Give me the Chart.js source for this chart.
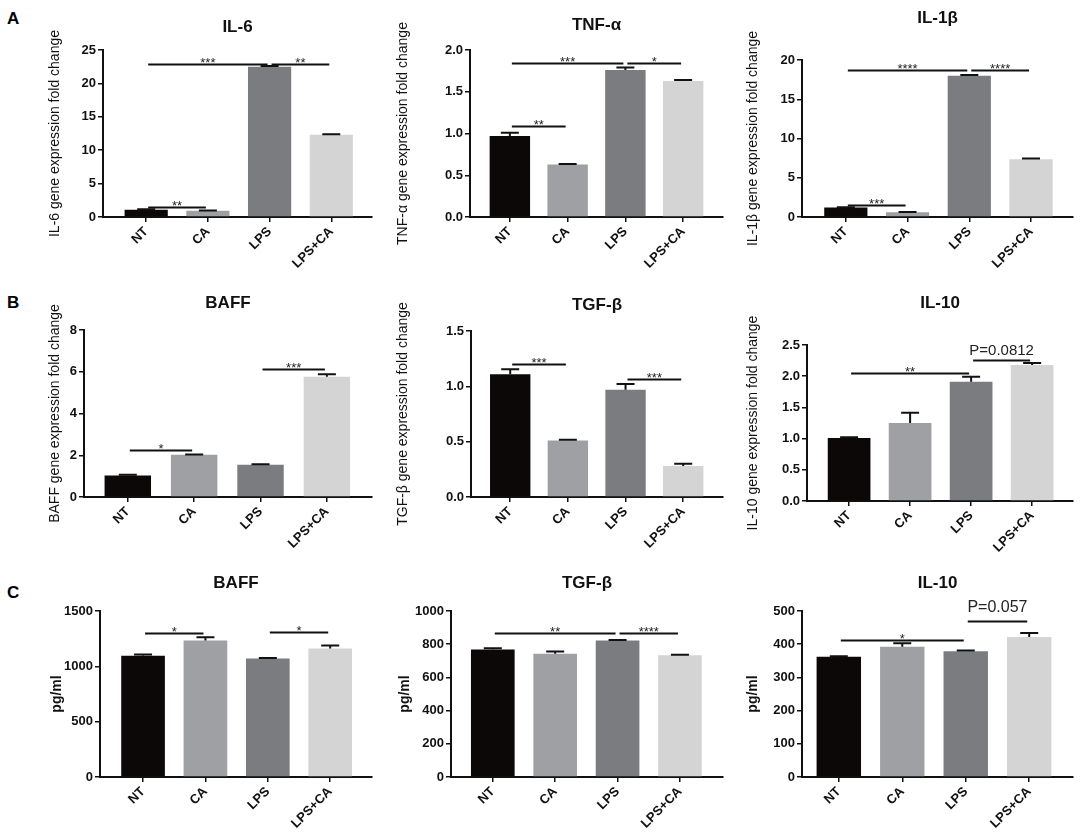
<!DOCTYPE html>
<html>
<head>
<meta charset="utf-8">
<script src="https://cdn.jsdelivr.net/npm/chart.js@4.4.1/dist/chart.umd.min.js"></script>
<style>
  body { margin: 0; width: 1084px; height: 838px; background: #fff; position: relative; overflow: hidden;
         font-family: "Liberation Sans", Arial, sans-serif; }
  .letter { position: absolute; font-weight: bold; font-size: 17px; line-height: 1; color: #000; }
  canvas { position: absolute; }
</style>
</head>
<body>
<div class="letter" style="left:7px;top:10px">A</div>
<div class="letter" style="left:7px;top:294px">B</div>
<div class="letter" style="left:7px;top:584px">C</div>

<script>
// ===== Data =====
const groups = ['NT', 'CA', 'LPS', 'LPS+CA'];

// A: gene expression fold change
const il6Mean  = [1.1, 0.95, 22.5, 12.3];
const il6Err   = [0.05, 0.04, 0.12, 0.1];
const il6Sig   = [[0, 2, 22.9, '***'], [2, 3, 22.9, '**'], [0, 1, 1.45, '**']];

const tnfMean  = [0.97, 0.63, 1.76, 1.63];
const tnfErr   = [0.04, 0.005, 0.03, 0.01];
const tnfSig   = [[0, 2, 1.85, '***'], [2, 3, 1.85, '*'], [0, 1, 1.09, '**']];

const il1bMean = [1.2, 0.6, 18.0, 7.35];
const il1bErr  = [0.05, 0.04, 0.1, 0.1];
const il1bSig  = [[0, 2, 18.7, '****'], [2, 3, 18.7, '****'], [0, 1, 1.58, '***']];

// B: gene expression fold change
const baffMean = [1.03, 2.02, 1.55, 5.76];
const baffErr  = [0.04, 0.02, 0.02, 0.12];
const baffSig  = [[0, 1, 2.26, '*'], [2, 3, 6.15, '***']];

const tgfMean  = [1.11, 0.51, 0.97, 0.28];
const tgfErr   = [0.045, 0.008, 0.05, 0.02];
const tgfSig   = [[0, 1, 1.2, '***'], [2, 3, 1.07, '***']];

const il10Mean = [1.01, 1.25, 1.91, 2.18];
const il10Err  = [0.01, 0.165, 0.08, 0.03];
const il10Sig  = [[0, 2, 2.05, '**'], [2, 3, 2.26, 'P=0.0812']];

// C: protein (pg/ml)
const baffPg    = [1095, 1233, 1071, 1161];
const baffPgErr = [12, 30, 5, 27];
const baffPgSig = [[0, 1, 1305, '*'], [2, 3, 1310, '*']];

const tgfPg    = [768, 742, 822, 734];
const tgfPgErr = [8, 14, 3, 3];
const tgfPgSig = [[0, 2, 870, '**'], [2, 3, 870, '****']];

const il10Pg    = [362, 392, 379, 422];
const il10PgErr = [2, 11, 2, 12];
const il10PgSig = [[0, 2, 412, '*'], [2, 3, 469, 'P=0.057']];

// ===== Styles =====
const barColors = ['#0c0808', '#9fa0a4', '#7b7c80', '#d4d4d4'];
const FONT = '"Liberation Sans", Arial, sans-serif';
const INK = '#111';

// ===== Panels (plot box in page pixels) =====
const panels = [
  { title: 'IL-6', yTitle: 'IL-6 gene expression fold change', mean: il6Mean, err: il6Err, sig: il6Sig,
    max: 25, step: 5, dec: 0, left: 103, top: 50, right: 372, bottom: 217, titleY: 27, yTitleX: 55, xmin: -0.70, xmax: 3.66 },
  { title: 'TNF-α', yTitle: 'TNF-α gene expression fold change', mean: tnfMean, err: tnfErr, sig: tnfSig,
    max: 2, step: 0.5, dec: 1, left: 470, top: 50, right: 723, bottom: 217, titleY: 25, yTitleX: 403, xmin: -0.69, xmax: 3.69 },
  { title: 'IL-1β', yTitle: 'IL-1β gene expression fold change', mean: il1bMean, err: il1bErr, sig: il1bSig,
    max: 20, step: 5, dec: 0, left: 802, top: 60, right: 1073, bottom: 217, titleY: 18, yTitleX: 753, xmin: -0.71, xmax: 3.68 },

  { title: 'BAFF', yTitle: 'BAFF gene expression fold change', mean: baffMean, err: baffErr, sig: baffSig,
    max: 8, step: 2, dec: 0, left: 84, top: 330, right: 372, bottom: 497, titleY: 303, yTitleX: 55, xmin: -0.66, xmax: 3.68 },
  { title: 'TGF-β', yTitle: 'TGF-β gene expression fold change', mean: tgfMean, err: tgfErr, sig: tgfSig,
    max: 1.5, step: 0.5, dec: 1, left: 471, top: 331, right: 723, bottom: 497, titleY: 305, yTitleX: 403, xmin: -0.68, xmax: 3.69 },
  { title: 'IL-10', yTitle: 'IL-10 gene expression fold change', mean: il10Mean, err: il10Err, sig: il10Sig,
    max: 2.5, step: 0.5, dec: 1, left: 807, top: 345, right: 1073, bottom: 501, titleY: 303, yTitleX: 753, xmin: -0.69, xmax: 3.67 },

  { title: 'BAFF', yTitle: 'pg/ml', yBold: true, mean: baffPg, err: baffPgErr, sig: baffPgSig,
    max: 1500, step: 500, dec: 0, left: 100, top: 611, right: 372, bottom: 777, titleY: 583, yTitleX: 57, xmin: -0.69, xmax: 3.67 },
  { title: 'TGF-β', yTitle: 'pg/ml', yBold: true, mean: tgfPg, err: tgfPgErr, sig: tgfPgSig,
    max: 1000, step: 200, dec: 0, left: 451, top: 611, right: 723, bottom: 777, titleY: 583, yTitleX: 405, xmin: -0.67, xmax: 3.69 },
  { title: 'IL-10', yTitle: 'pg/ml', yBold: true, mean: il10Pg, err: il10PgErr, sig: il10PgSig,
    max: 500, step: 100, dec: 0, left: 802, top: 611, right: 1073, bottom: 777, titleY: 583, yTitleX: 753, xmin: -0.58, xmax: 3.69 }
];

// ===== error bars + significance lines =====
function marksFor(p) {
  return {
    id: 'marks',
    afterDatasetsDraw(chart) {
      const { ctx, scales: { x, y } } = chart;
      ctx.save();
      ctx.strokeStyle = INK;
      ctx.lineWidth = 2;
      p.mean.forEach((m, i) => {
        const px = x.getPixelForValue(i);
        const y0 = y.getPixelForValue(m);
        const y1 = y.getPixelForValue(m + p.err[i]);
        ctx.beginPath();
        ctx.moveTo(px, y0);
        ctx.lineTo(px, y1);
        ctx.moveTo(px - 9, y1);
        ctx.lineTo(px + 9, y1);
        ctx.stroke();
      });
      p.sig.forEach(([a, b, v, label]) => {
        const xa = x.getPixelForValue(a) + 2;
        const xb = x.getPixelForValue(b) - 2;
        const yy = Math.round(y.getPixelForValue(v)) + 0.5;
        ctx.beginPath();
        ctx.moveTo(xa, yy);
        ctx.lineTo(xb, yy);
        ctx.stroke();
        ctx.fillStyle = '#222';
        ctx.textAlign = 'center';
        if (label.startsWith('P=')) {
          ctx.font = (label.length > 7 ? 15 : 16) + 'px ' + FONT;
          ctx.textBaseline = 'middle';
          ctx.fillText(label, (xa + xb) / 2, yy - (label.length > 7 ? 10 : 14));
        } else {
          ctx.font = '13px ' + FONT;
          ctx.textBaseline = 'alphabetic';
          ctx.fillText(label, (xa + xb) / 2, yy + 2);
        }
      });
      ctx.restore();
    }
  };
}

// ===== Build charts =====
panels.forEach(p => {
  const titleLH = 17 * 1.2;
  const canvasLeft = Math.round(p.yTitleX - 14 * 1.2 / 2);
  const canvasTop = Math.round(p.titleY - titleLH / 2);
  const yw = p.left - canvasLeft;
  const xh = 62;
  const padRight = 6;
  const w = p.right + padRight - canvasLeft;
  const h = p.bottom + xh - canvasTop;

  const cv = document.createElement('canvas');
  cv.width = w;
  cv.height = h;
  cv.style.left = canvasLeft + 'px';
  cv.style.top = canvasTop + 'px';
  cv.style.width = w + 'px';
  cv.style.height = h + 'px';
  document.body.appendChild(cv);

  new Chart(cv, {
    type: 'bar',
    data: {
      datasets: [{
        data: groups.map((g, i) => ({ x: i, y: p.mean[i] })),
        backgroundColor: barColors,
        borderWidth: 0,
        barPercentage: 0.875,
        categoryPercentage: 0.8
      }]
    },
    options: {
      responsive: false,
      devicePixelRatio: 1,
      animation: false,
      layout: { padding: { left: 0, right: padRight, top: 0, bottom: 0 } },
      plugins: {
        legend: { display: false },
        tooltip: { enabled: false },
        title: {
          display: true, text: p.title, fullSize: false, color: INK,
          font: { family: FONT, size: 17, weight: 'bold', lineHeight: 1.2 },
          padding: { top: 0, bottom: p.top - canvasTop - titleLH }
        }
      },
      scales: {
        x: {
          type: 'linear', min: p.xmin, max: p.xmax, offset: false, bounds: 'data',
          afterBuildTicks: s => { s.ticks = groups.map((g, i) => ({ value: i })); },
          afterFit: s => { s.height = xh; s.paddingLeft = 0; s.paddingRight = 0; },
          ticks: {
            autoSkip: false, minRotation: 45, maxRotation: 45, padding: 2, color: INK,
            font: { family: FONT, size: 13, weight: 'bold' },
            callback: v => groups[v] ?? ''
          },
          grid: { offset: false, drawOnChartArea: false, drawTicks: true, tickLength: 5, color: INK, lineWidth: 1.5 },
          border: { display: true, color: INK, width: 2 }
        },
        y: {
          min: 0, max: p.max,
          afterFit: s => { s.width = yw; s.paddingTop = 0; s.paddingBottom = 0; },
          ticks: {
            stepSize: p.step, padding: 2, color: INK,
            font: { family: FONT, size: 13, weight: 'bold' },
            callback: v => v.toFixed(p.dec)
          },
          grid: { drawOnChartArea: false, drawTicks: true, tickLength: 5, color: INK, lineWidth: 1.5 },
          border: { display: true, color: INK, width: 2 },
          title: {
            display: true, text: p.yTitle, color: INK, padding: 0,
            font: { family: FONT, size: 14, weight: p.yBold ? 'bold' : 'normal', lineHeight: 1.2 }
          }
        }
      }
    },
    plugins: [marksFor(p)]
  });
});
</script>
</body>
</html>
